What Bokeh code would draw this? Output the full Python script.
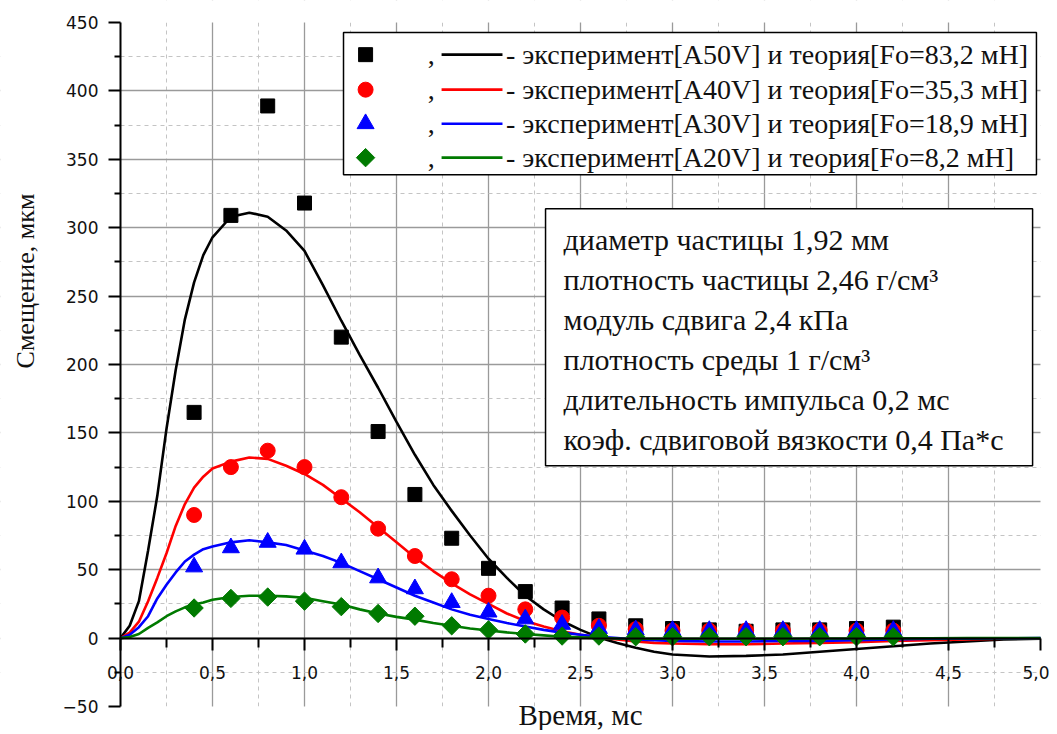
import math
from bokeh.plotting import figure
from bokeh.models import (Range1d, LinearAxis, FixedTicker, Grid, Label,
                          CustomJSTickFormatter)
from bokeh.core.properties import value
from bokeh.embed import file_html
from bokeh.resources import INLINE

# ---------------- data ----------------
t_exp = [0.4, 0.6, 0.8, 1.0, 1.2, 1.4, 1.6, 1.8, 2.0, 2.2, 2.4, 2.6, 2.8, 3.0,
         3.2, 3.4, 3.6, 3.8, 4.0, 4.2]
exp_a50 = [165, 309, 389, 318, 220, 151, 105, 73, 51, 34, 22, 14, 9, 7, 6, 5, 6, 6, 7, 8]
exp_a40 = [90, 125, 137, 125, 103, 80, 60, 43, 31, 21, 15, 9, 6.5, 5.5, 5.5, 5.5, 5.5, 5.5, 5.5, 5.5]
exp_a30 = [52, 66, 70, 65, 55, 44, 36, 26, 19, 14, 10, 7, 6, 5.5, 5.5, 5.5, 5.5, 5.5, 5.5, 5.5]
exp_a20 = [22, 29, 30, 27, 23, 18, 16, 9, 6, 3, 1.5, 1.5, 1, 1, 1, 1, 1, 1, 1, 1]

t_theory = [0, 0.05, 0.1, 0.15, 0.2, 0.25, 0.3, 0.35, 0.4, 0.45, 0.5, 0.6, 0.7,
            0.8, 0.9, 1.0, 1.1, 1.2, 1.3, 1.4, 1.5, 1.6, 1.7, 1.8, 1.9, 2.0,
            2.1, 2.2, 2.3, 2.4, 2.5, 2.6, 2.7, 2.8, 2.9, 3.0, 3.2, 3.4, 3.6,
            3.8, 4.0, 4.2, 4.4, 4.6, 4.8, 5.0]
th_f83 = [0, 9, 27, 64, 104, 153, 196, 233, 260, 280, 293, 308, 311,
          308, 298, 283, 258, 232, 207, 183, 158, 134, 112, 93, 75, 58,
          44, 31, 21, 12.5, 6, 0.5, -3.5, -7, -10, -12, -13.5, -13, -12,
          -10, -8, -6, -4, -2.5, -1, -0.5]
th_f35 = [0, 4, 12, 27, 44, 62, 82, 98, 110, 118, 124, 129, 132,
          131, 126, 120, 112, 102, 92, 81, 70, 59, 49, 40, 32, 25,
          18, 12.5, 8.5, 5, 2.5, 0.5, -1, -2.5, -3.5, -4, -4.5, -4.5, -4,
          -3.5, -3, -2, -1.5, -1, -0.5, -0.3]
th_f19 = [0, 2.5, 8, 16, 29, 39, 48, 56, 61, 65, 67, 70, 71.5,
          70, 68, 64, 60, 55, 49, 43, 37, 31, 26, 21, 17, 14,
          11, 8.5, 6, 4, 2.5, 1, 0, -1, -1.5, -2, -2.5, -2.5, -2,
          -2, -1.5, -1, -0.5, -0.5, -0.3, 0]
th_f8 = [0, 0.8, 3, 7.5, 11.5, 16, 19.5, 22.5, 24.5, 26, 28, 30, 31,
         31, 30.5, 29.5, 27, 24.5, 21, 18, 15.5, 13.5, 11, 9, 7, 5.5,
         4.2, 3, 2, 1, 0.5, 0, -0.3, -0.5, -0.5, -0.5, -0.5, -0.5, -0.5,
         -0.3, -0.3, -0.2, -0.1, 0, 0, 0]

series_colors = ["#000000", "#ff0000", "#0000ff", "#007a00"]
series_markers = ["square", "circle", "triangle", "square"]
series_angles = [0, 0, 0, math.pi / 4]
series_sizes = [14, 15, 17, 13]
legend_labels = [
    "- эксперимент[A50V] и теория[Fo=83,2 мН]",
    "- эксперимент[A40V] и теория[Fo=35,3 мН]",
    "- эксперимент[A30V] и теория[Fo=18,9 мН]",
    "- эксперимент[A20V] и теория[Fo=8,2 мН]",
]
info_lines = [
    "диаметр частицы 1,92 мм",
    "плотность частицы 2,46 г/см³",
    "модуль сдвига 2,4 кПа",
    "плотность среды 1 г/см³",
    "длительность импульса 0,2 мс",
    "коэф. сдвиговой вязкости 0,4 Па*с",
]
x_title = "Время, мс"
y_title = "Смещение, мкм"

x_major = [0, 0.5, 1.0, 1.5, 2.0, 2.5, 3.0, 3.5, 4.0, 4.5, 5.0]
x_minor = [0.25, 0.75, 1.25, 1.75, 2.25, 2.75, 3.25, 3.75, 4.25, 4.75]
y_major = [-50, 0, 50, 100, 150, 200, 250, 300, 350, 400, 450]
y_minor = [-25, 25, 75, 125, 175, 225, 275, 325, 375, 425]

SERIF = "Liberation Serif"
SANS = "DejaVu Sans"

# ---------------- figure (frame fills the canvas; axes fixed at 0) ----------------
W, H = 1049, 730
PX_X = 184.0      # pixels per ms
PX_Y = 1.368      # pixels per µm
X0_PX, Y450_PX = 120, 22
x_start = -X0_PX / PX_X
x_end = x_start + W / PX_X
y_end = 450 + Y450_PX / PX_Y
y_start = y_end - H / PX_Y

p = figure(width=W, height=H, output_backend="svg", toolbar_location=None,
           x_range=Range1d(x_start, x_end), y_range=Range1d(y_start, y_end),
           x_axis_location=None, y_axis_location=None,
           min_border=0, min_border_left=0, min_border_right=0,
           min_border_top=0, min_border_bottom=0)
p.outline_line_color = None
p.grid.visible = False
p.background_fill_color = "white"
p.border_fill_color = "white"

# grids
xg = Grid(dimension=0, ticker=FixedTicker(ticks=x_major[1:-1], minor_ticks=x_minor),
          grid_line_color="#9a9a9a", grid_line_width=1.3,
          minor_grid_line_color="#c4c4c4", minor_grid_line_dash="4 4",
          minor_grid_line_width=1)
yg = Grid(dimension=1, ticker=FixedTicker(ticks=y_major[1:-1], minor_ticks=y_minor),
          grid_line_color="#9a9a9a", grid_line_width=1.3,
          minor_grid_line_color="#c4c4c4", minor_grid_line_dash="4 4",
          minor_grid_line_width=1)
p.add_layout(xg, "center")
p.add_layout(yg, "center")

# white covers so the grid stays inside the 0..5 x -50..450 area
p.quad(left=[x_start, x_start, x_start, 5.0],
       right=[0.0, x_end, x_end, x_end],
       bottom=[y_start, y_start, 450.0, y_start],
       top=[y_end, -50.0, y_end, y_end],
       fill_color="white", line_color=None)

# y axis at x = 0
yax = LinearAxis(ticker=FixedTicker(ticks=y_major, minor_ticks=y_minor),
                 fixed_location=0, bounds=(-50, 450))
yax.axis_line_width = 2
yax.axis_line_color = "black"
yax.major_tick_line_width = 2
yax.minor_tick_line_width = 2
yax.major_tick_out = 12
yax.major_tick_in = 0
yax.minor_tick_out = 6
yax.minor_tick_in = 0
yax.major_label_standoff = 10
yax.major_label_text_font = SANS
yax.major_label_text_font_size = "17px"
yax.major_label_text_color = "#111111"
p.add_layout(yax, "left")

# x axis at y = 0
xax = LinearAxis(ticker=FixedTicker(ticks=x_major, minor_ticks=x_minor),
                 fixed_location=0, bounds=(0, 5))
xax.formatter = CustomJSTickFormatter(code="return tick.toFixed(1).replace('.', ',');")
xax.axis_line_width = 2
xax.axis_line_color = "black"
xax.major_tick_line_width = 2
xax.minor_tick_line_width = 2
xax.major_tick_out = 12
xax.major_tick_in = 0
xax.minor_tick_out = 9
xax.minor_tick_in = 0
xax.major_label_standoff = 16
xax.major_label_text_font = SANS
xax.major_label_text_font_size = "17px"
xax.major_label_text_color = "#111111"
p.add_layout(xax, "below")

# theory curves
for ys, c in zip([th_f83, th_f35, th_f19, th_f8], series_colors):
    p.line(t_theory, ys, line_color=c, line_width=2.6)

# experiment points
for ys, c, m, a, s in zip([exp_a50, exp_a40, exp_a30, exp_a20], series_colors,
                          series_markers, series_angles, series_sizes):
    p.scatter(t_exp, ys, marker=m, angle=a, size=s, fill_color=c, line_color=c)

# ---------------- legend box ----------------
p.quad(left=[1.212], right=[4.978], top=[442.7], bottom=[338.7],
       fill_color="white", line_color="black", line_width=1.5)
leg_y = [426.5, 400.9, 376.0, 351.2]
for i in range(4):
    p.scatter([1.332], [leg_y[i]], marker=series_markers[i], angle=series_angles[i],
              size=series_sizes[i], fill_color=series_colors[i],
              line_color=series_colors[i])
    p.line([1.745, 2.076], [leg_y[i], leg_y[i]], line_color=series_colors[i],
           line_width=2.6)
p.text(x=[1.67] * 4, y=leg_y, text=[","] * 4, text_font=value(SERIF),
       text_font_size="28px", text_baseline="middle", text_align="left",
       text_color="#111111")
p.text(x=[2.095] * 4, y=leg_y, text=legend_labels, text_font=value(SERIF),
       text_font_size="28px", text_baseline="middle", text_align="left",
       text_color="#111111")

# ---------------- info box ----------------
p.quad(left=[2.310], right=[4.957], top=[313.8], bottom=[126.0],
       fill_color="white", line_color="black", line_width=1.5)
info_y = [291.4, 262.1, 232.9, 203.7, 174.4, 145.2]
p.text(x=[2.408] * 6, y=info_y, text=info_lines, text_font=value(SERIF),
       text_font_size="30px", text_baseline="middle", text_align="left",
       text_color="#111111")

# ---------------- axis titles ----------------
p.add_layout(Label(x=2.5, y=-56.3, text=x_title, text_font=SERIF,
                   text_font_size="29px", text_align="center",
                   text_baseline="middle", text_color="#111111"))
p.add_layout(Label(x=-0.516, y=261, text=y_title, text_font=SERIF,
                   text_font_size="26px", text_align="center",
                   text_baseline="middle", angle=math.pi / 2,
                   text_color="#111111"))

open("out.html", "w").write(file_html(p, INLINE))
